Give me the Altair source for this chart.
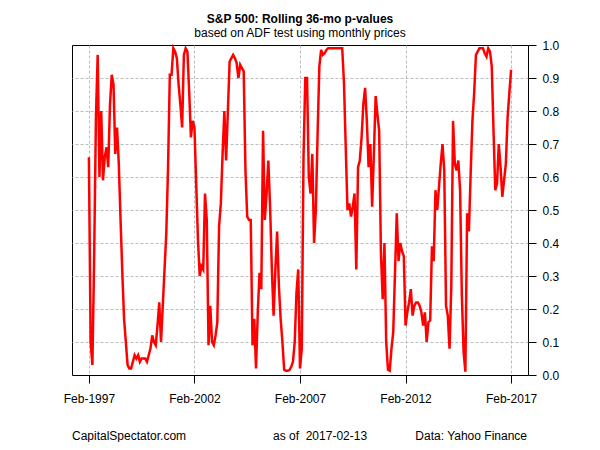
import altair as alt
import pandas as pd

# ---- data (monthly, Feb-1997 .. Feb-2017) ----
p_values = [
    0.66, 0.10, 0.03, 0.36, 0.78, 0.97, 0.60, 0.80, 0.59, 0.66,
    0.69, 0.63, 0.82, 0.91, 0.88, 0.67, 0.75, 0.64, 0.47, 0.31,
    0.17, 0.10, 0.03, 0.02, 0.02, 0.04, 0.06, 0.05, 0.06, 0.04,
    0.05, 0.05, 0.05, 0.04, 0.06, 0.08, 0.12, 0.10, 0.09, 0.15,
    0.22, 0.10, 0.21, 0.32, 0.43, 0.63, 0.91, 0.91, 0.99, 0.98,
    0.96, 0.88, 0.82, 0.75, 0.97, 0.99, 0.98, 0.86, 0.72, 0.77,
    0.75, 0.58, 0.41, 0.30, 0.33, 0.32, 0.55, 0.47, 0.09, 0.21,
    0.10, 0.09, 0.12, 0.16, 0.45, 0.52, 0.67, 0.80, 0.65, 0.80,
    0.95, 0.96, 0.97, 0.96, 0.945, 0.90, 0.94, 0.93, 0.92, 0.62,
    0.48, 0.47, 0.47, 0.09, 0.17, 0.02, 0.19, 0.31, 0.26, 0.74,
    0.47, 0.55, 0.65, 0.51, 0.32, 0.18, 0.32, 0.435, 0.27, 0.17,
    0.10, 0.016, 0.013, 0.013, 0.015, 0.025, 0.04, 0.10, 0.25, 0.32,
    0.02, 0.08, 0.66, 0.90, 0.90, 0.60, 0.55, 0.67, 0.40, 0.50,
    0.73, 0.935, 0.985, 0.97, 0.975, 0.985, 0.99, 0.99, 0.99, 0.99,
    0.99, 0.99, 0.99, 0.99, 0.99, 0.885, 0.69, 0.50, 0.52, 0.48,
    0.51, 0.55, 0.32, 0.63, 0.65, 0.72, 0.82, 0.87, 0.77, 0.63,
    0.70, 0.51, 0.67, 0.845, 0.79, 0.74, 0.37, 0.23, 0.40, 0.10,
    0.016, 0.013, 0.08, 0.13, 0.31, 0.49, 0.345, 0.40, 0.375, 0.36,
    0.15, 0.19, 0.22, 0.26, 0.18, 0.21, 0.22, 0.22, 0.21, 0.19,
    0.15, 0.19, 0.10, 0.16, 0.165, 0.39, 0.345, 0.56, 0.50, 0.57,
    0.64, 0.70, 0.62, 0.21, 0.18, 0.08, 0.27, 0.77, 0.64, 0.62,
    0.65, 0.56, 0.24, 0.07, 0.01, 0.49, 0.435, 0.61, 0.77, 0.855,
    0.97, 0.98, 0.99, 0.99, 0.99, 0.975, 0.965, 0.99, 0.98, 0.935,
    0.74, 0.56, 0.58, 0.70, 0.63, 0.54, 0.59, 0.64, 0.78, 0.855,
    0.925,
]
month_index = list(range(len(p_values)))  # months since Feb-1997

x_tick_pos = [0, 60, 120, 180, 240]
x_tick_labels = ["Feb-1997", "Feb-2002", "Feb-2007", "Feb-2012", "Feb-2017"]
y_ticks = [0.0, 0.1, 0.2, 0.3, 0.4, 0.5, 0.6, 0.7, 0.8, 0.9, 1.0]

title_text = "S&P 500: Rolling 36-mo p-values"
subtitle_text = "based on ADF test using monthly prices"
footer_left = "CapitalSpectator.com"
footer_mid = "as of \u00a02017-02-13"   # two spaces, as in the reference
footer_right = "Data: Yahoo Finance"

# ---- layout ----
W, H = 456, 330
FONT = "Liberation Sans"
GRID = "#bdbdbd"
FOOT_Y = 394.5

df = pd.DataFrame({"m": month_index, "p": p_values})
xscale = alt.Scale(domain=[-9.6, 249.6], nice=False, zero=False)
yscale = alt.Scale(domain=[0, 1], nice=False, zero=False)

pos_list = "[" + ",".join(str(v) for v in x_tick_pos) + "]"
lab_list = "[" + ",".join("'" + s + "'" for s in x_tick_labels) + "]"
label_expr = lab_list + "[indexof(" + pos_list + ", datum.value)]"

common_axis = dict(
    title=None,
    grid=True,
    gridColor=GRID,
    gridDash=[3, 2],
    gridWidth=1,
    domain=False,
    tickSize=8,
    tickColor="black",
    tickWidth=1,
    labelFlush=False,
    labelOverlap=False,
    labelFont=FONT,
    labelFontSize=12,
    labelColor="black",
)

line = alt.Chart(df).mark_line(color="#ff0000", strokeWidth=2.5).encode(
    x=alt.X(
        "m:Q",
        scale=xscale,
        axis=alt.Axis(
            values=x_tick_pos,
            labelExpr=label_expr,
            labelPadding=10,
            **common_axis,
        ),
    ),
    y=alt.Y(
        "p:Q",
        scale=yscale,
        axis=alt.Axis(
            orient="right",
            values=y_ticks,
            format=".1f",
            labelPadding=6,
            gridOpacity={
                "condition": {"test": "datum.value <= 0.001 || datum.value >= 0.999", "value": 0},
                "value": 1,
            },
            **common_axis,
        ),
    ),
)


def text_layer(txt, x, y, align="center", bold=False):
    return alt.Chart(pd.DataFrame({"t": [txt]})).mark_text(
        align=align,
        baseline="alphabetic",
        font=FONT,
        fontSize=12,
        fontWeight="bold" if bold else "normal",
        color="black",
    ).encode(text="t:N", x=alt.value(x), y=alt.value(y))


texts = [
    text_layer(title_text, W / 2, -22.5, bold=True),
    text_layer(subtitle_text, W / 2, -8.5),
    text_layer(footer_left, 0, FOOT_Y, align="left"),
    text_layer(footer_mid, 201, FOOT_Y, align="left"),
    text_layer(footer_right, 455, FOOT_Y, align="right"),
]

chart = alt.layer(line, *texts).properties(
    width=W,
    height=H,
    autosize=alt.AutoSizeParams(type="none"),
    padding={"left": 64, "top": 37, "right": 64, "bottom": 67},
    background="white",
).configure_view(stroke="black", strokeWidth=1)

chart.save("out.html", embed_options={"renderer": "svg", "actions": False})
